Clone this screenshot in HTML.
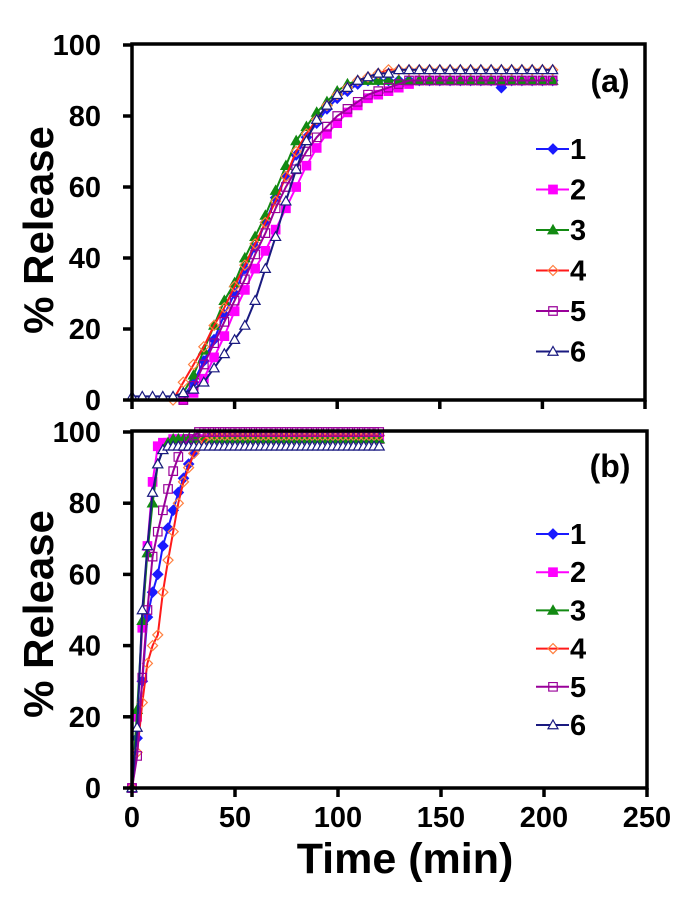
<!DOCTYPE html>
<html><head><meta charset="utf-8"><style>
html,body{margin:0;padding:0;background:#fff;}
svg{display:block;font-family:"Liberation Sans",Arial,sans-serif;font-weight:bold;}
</style></head><body>
<svg id="chart" width="689" height="904" viewBox="0 0 689 904" xmlns="http://www.w3.org/2000/svg"></svg>
<script>
// ---- data ----
const xTicks = [0, 50, 100, 150, 200, 250];
const yTicks = [0, 20, 40, 60, 80, 100];
const seriesNames = ["1", "2", "3", "4", "5", "6"];
// panel (a)
const timesA = [0,5,10,15,20,25,30,35,40,45,50,55,60,65,70,75,80,85,90,95,100,105,110,115,120,125,130,135,140,145,150,155,160,165,170,175,180,185,190,195,200,205];
const a1 = [null,null,null,null,null,1,5,11,17,24,30,37,43,50,57,63,69,74,78,82,85,87,89,90,90,90,90,90,90,90,90,90,90,90,90,90,88,90,90,90,90,90];
const a2 = [null,null,null,null,null,0,2,6,12,18,25,31,37,42,48,54,60,66,71,75,78,81,83,85,86,87,88,89,90,90,90,90,90,90,90,90,90,90,90,90,90,90];
const a3 = [null,null,null,null,null,2,7,14,21,28,33,40,46,52,59,66,73,77,81,84,87,89,90,90,90,90,90,90,90,90,90,90,90,90,90,90,90,90,90,90,90,90];
const a4 = [null,null,null,null,0,5,10,15,21,26,32,38,44,50,56,63,70,75,79,83,86,88,90,91,92,93,93,93,93,93,93,93,93,93,93,93,93,93,93,93,93,93];
const a5 = [null,null,null,null,null,0,4,10,16,22,28,34,41,47,54,60,65,70,74,77,80,82,84,86,87,88,89,90,90,90,90,90,90,90,90,90,90,90,90,90,90,90];
const a6 = [1,1,1,1,1,2,3,5,9,13,17,21,28,37,46,56,65,73,79,83,86,88,90,91,92,92,93,93,93,93,93,93,93,93,93,93,93,93,93,93,93,93];
// panel (b)
const timesB = [0,2.5,5,7.5,10,12.5,15,17.5,20,22.5,25,27.5,30,32.5,35,37.5,40,42.5,45,47.5,50,52.5,55,57.5,60,62.5,65,67.5,70,72.5,75,77.5,80,82.5,85,87.5,90,92.5,95,97.5,100,102.5,105,107.5,110,112.5,115,117.5,120];
const b1 = [0,14,30,48,55,60,68,73,78,83,87,91,94,96,98,99,99,99,99,99,99,99,99,99,99,99,99,99,99,99,99,99,99,99,99,99,99,99,99,99,99,99,99,99,99,99,99,99,99];
const b2 = [0,20,45,68,86,96,97,97,98,98,98,98,98,98,98,98,98,98,98,98,98,98,98,98,98,98,98,98,98,98,98,98,98,98,98,98,98,98,98,98,98,98,98,98,98,98,98,98,98];
const b3 = [0,22,47,66,80,91,95,97,98,98,98,98,98,98,98,98,98,98,98,98,98,98,98,98,98,98,98,98,98,98,98,98,98,98,98,98,98,98,98,98,98,98,98,98,98,98,98,98,98];
const b4 = [0,10,24,35,40,43,55,64,72,80,86,90,94,96,98,99,99,99,99,99,99,99,99,99,99,99,99,99,99,99,99,99,99,99,99,99,99,99,99,99,99,99,99,99,99,99,99,99,99];
const b5 = [0,9,31,50,65,72,78,84,89,93,96,98,99,100,100,100,100,100,100,100,100,100,100,100,100,100,100,100,100,100,100,100,100,100,100,100,100,100,100,100,100,100,100,100,100,100,100,100,100];
const b6 = [0,17,50,68,83,91,95,96,96,96,96,96,96,96,96,96,96,96,96,96,96,96,96,96,96,96,96,96,96,96,96,96,96,96,96,96,96,96,96,96,96,96,96,96,96,96,96,96,96];

const styles = [
  {line:"#1a1aff", fill:"#1a1aff", stroke:"#1a1aff", shape:"diamond"},
  {line:"#ff00ff", fill:"#ff00ff", stroke:"#ff00ff", shape:"square"},
  {line:"#138a13", fill:"#138a13", stroke:"#138a13", shape:"triangle"},
  {line:"#ff1a1a", fill:"none", stroke:"#ff8040", shape:"diamond"},
  {line:"#990099", fill:"none", stroke:"#990099", shape:"square"},
  {line:"#1a1a80", fill:"#fff", stroke:"#1a1a80", shape:"triangle"}
];

const NS = "http://www.w3.org/2000/svg";
const svg = document.getElementById("chart");
function mk(tag, attrs, parent) {
  const e = document.createElementNS(NS, tag);
  for (const k in attrs) e.setAttribute(k, attrs[k]);
  (parent || svg).appendChild(e);
  return e;
}
function markerPath(shape, cx, cy, r) {
  if (shape === "diamond") return `M${cx},${cy-r}L${cx+r},${cy}L${cx},${cy+r}L${cx-r},${cy}Z`;
  if (shape === "square") return `M${cx-r*0.85},${cy-r*0.85}h${r*1.7}v${r*1.7}h${-r*1.7}Z`;
  return `M${cx},${cy-r}L${cx+r},${cy+r*0.75}L${cx-r},${cy+r*0.75}Z`;
}

function panel(cfg) {
  const g = mk("g", {});
  
  
  const xs = v => cfg.x0 + (v - 0) / 250 * (cfg.x1 - cfg.x0);
  const ys = v => cfg.y0 - v / 100 * (cfg.y0 - cfg.y1);
  cfg.series.forEach((vals, si) => {
    const st = styles[si];
    const sg = mk("g", {}, g);
    
    
    let d = "";
    vals.forEach((v, i) => { if (v === null) return; d += (d ? "L" : "M") + xs(cfg.times[i]).toFixed(1) + "," + ys(v).toFixed(1); });
    mk("path", {d: d, fill: "none", stroke: st.line, "stroke-width": 2}, sg);
    vals.forEach((v, i) => {
      if (v === null) return;
      const m = mk("path", {d: markerPath(st.shape, xs(cfg.times[i]), ys(v), 5), fill: st.fill, stroke: st.stroke, "stroke-width": 1.2}, sg);
      
      
    });
  });
  const fr = mk("path", {d: `M${cfg.x0},${cfg.y1-1}H${cfg.x1}V${cfg.y0}H${cfg.x0}Z`, fill: "none", stroke: "#000", "stroke-width": 3.5}, g);
  
  
  yTicks.forEach(v => {
    mk("line", {x1: cfg.x0 - 9, x2: cfg.x0, y1: ys(v), y2: ys(v), stroke: "#000", "stroke-width": 3.5}, g);
    const t = mk("text", {x: 101, y: ys(v) + 10, "text-anchor": "end", "font-size": 29}, g);
    t.textContent = v;
    
    
  });
  xTicks.forEach(v => {
    mk("line", {x1: xs(v), x2: xs(v), y1: cfg.y0, y2: cfg.y0 + 9, stroke: "#000", "stroke-width": 3.5}, g);
    if (cfg.xlabels) {
      const t = mk("text", {x: xs(v), y: 827, "text-anchor": "middle", "font-size": 29}, g);
      t.textContent = v;
      
      
    }
  });
  const yt = mk("text", {x: 0, y: 0, "text-anchor": "middle", "font-size": 42, transform: `translate(53,${cfg.ytitleY}) rotate(-90)`}, g);
  yt.textContent = "% Release";
  
  
  const pl = mk("text", {x: 610, y: cfg.labelY, "text-anchor": "middle", "font-size": 32}, g);
  pl.textContent = cfg.label;
  
  
  const lg = mk("g", {}, g);
  
  
  seriesNames.forEach((n, i) => {
    const st = styles[i];
    const y = cfg.legY + i * cfg.legStep;
    const e = mk("g", {}, lg);
    
    
    mk("line", {x1: 536, x2: 569, y1: y, y2: y, stroke: st.line, "stroke-width": 2}, e);
    mk("path", {d: markerPath(st.shape, 553, y, 5), fill: st.fill, stroke: st.stroke, "stroke-width": 1.2}, e);
    const t = mk("text", {x: 570, y: y + 10, "font-size": 29}, e);
    t.textContent = n;
  });
}

panel({name: "panel-a", tag: "a", x0: 132, x1: 645, y0: 400, y1: 45, times: timesA,
  series: [a1, a2, a3, a4, a5, a6], xlabels: false, ytitleY: 230, label: "(a)", labelY: 92, legY: 149, legStep: 40.5});
panel({name: "panel-b", tag: "b", x0: 132, x1: 647, y0: 788, y1: 432, times: timesB,
  series: [b1, b2, b3, b4, b5, b6], xlabels: true, ytitleY: 614, label: "(b)", labelY: 477, legY: 534, legStep: 38.2});

const xt = mk("text", {x: 405, y: 873, "text-anchor": "middle", "font-size": 43});
xt.textContent = "Time (min)";


</script>
</body></html>
